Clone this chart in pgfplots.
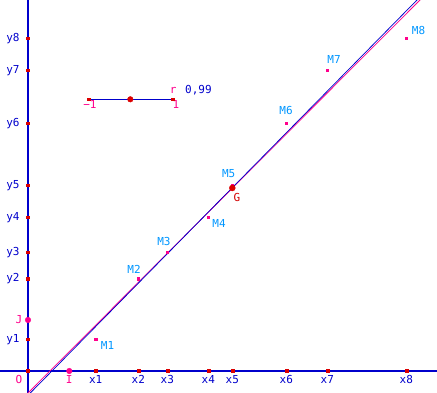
\documentclass[border=0pt]{standalone}
\usepackage{pgfplots}
\pgfplotsset{compat=1.18}
\usepackage{fontspec}
\setmainfont{DejaVu Sans Mono}
\definecolor{axblue}{RGB}{0,0,204}
\definecolor{tickred}{RGB}{220,0,0}
\definecolor{mag}{RGB}{255,0,140}
\definecolor{lblue}{RGB}{0,150,255}
\definecolor{gred}{RGB}{210,0,0}
\begin{document}
\begin{tikzpicture}[font=\fontsize{11}{13}\selectfont]
\begin{axis}[width=437pt,height=393pt,scale only axis,
  xmin=-28,xmax=409,ymin=-22,ymax=371,hide axis,clip=true,
  every node/.append style={inner sep=0pt}]
% axes
\addplot[axblue,line width=1.6pt] coordinates {(-28,0) (409,0)};
\addplot[axblue,line width=1.6pt] coordinates {(0,-22) (0,371)};
% regression lines
\addplot[mag,line width=0.75pt] coordinates {(-1,-23) (393,372)};
\addplot[axblue,line width=0.75pt] coordinates {(1.3,-23) (390,372)};
% slider
\addplot[axblue,line width=1pt] coordinates {(60.3,271.7) (144.3,271.7)};
\addplot[only marks,mark=square*,mark size=1.4pt,tickred] coordinates {(60.3,271.7) (144.3,271.7)};
\addplot[only marks,mark=*,mark size=2.8pt,tickred] coordinates {(102.3,271.7)};
% ticks on axes
\addplot[only marks,mark=square*,mark size=1.4pt,tickred] coordinates {
 (0,0) (67.7,0) (110.3,0) (139.3,0) (180.3,0) (204.3,0) (258.3,0) (299.3,0) (378.3,0)};
\addplot[only marks,mark=square*,mark size=1.4pt,tickred] coordinates {
 (0,31.7) (0,92) (0,118.7) (0,153.7) (0,185.7) (0,247.7) (0,300.7) (0,332.7)};
% I and J
\addplot[only marks,mark=*,mark size=2.8pt,mag] coordinates {(41.3,0) (0,51)};
% M points
\addplot[only marks,mark=square*,mark size=1.3pt,mag] coordinates {
 (67.7,31.7) (110.3,92) (139.3,118.7) (180.3,153.7) (204.3,185.7) (258.3,247.7) (299.3,300.7) (378.3,332.7)};
% G
\addplot[only marks,mark=*,mark size=3pt,tickred] coordinates {(204.3,183)};
% x labels
\node[anchor=base,text=axblue] at (67.7,-12.5) {x1};
\node[anchor=base,text=axblue] at (110.3,-12.5) {x2};
\node[anchor=base,text=axblue] at (139.3,-12.5) {x3};
\node[anchor=base,text=axblue] at (180.3,-12.5) {x4};
\node[anchor=base,text=axblue] at (204.3,-12.5) {x5};
\node[anchor=base,text=axblue] at (258.3,-12.5) {x6};
\node[anchor=base,text=axblue] at (299.3,-12.5) {x7};
\node[anchor=base,text=axblue] at (378.3,-12.5) {x8};
% y labels
\node[anchor=mid,text=axblue] at (-15,31.7) {y1};
\node[anchor=mid,text=axblue] at (-15,92) {y2};
\node[anchor=mid,text=axblue] at (-15,118.7) {y3};
\node[anchor=mid,text=axblue] at (-15,153.7) {y4};
\node[anchor=mid,text=axblue] at (-15,185.7) {y5};
\node[anchor=mid,text=axblue] at (-15,247.7) {y6};
\node[anchor=mid,text=axblue] at (-15,300.7) {y7};
\node[anchor=mid,text=axblue] at (-15,332.7) {y8};
% O I J
\node[anchor=base,text=mag] at (-9,-12.5) {O};
\node[anchor=base,text=mag] at (41.3,-12.5) {I};
\node[anchor=base,text=mag] at (-9,47) {J};
% M labels
\node[anchor=base,text=lblue] at (79.5,21) {M1};
\node[anchor=base,text=lblue] at (106,97.5) {M2};
\node[anchor=base,text=lblue] at (136,125) {M3};
\node[anchor=base,text=lblue] at (191,143.5) {M4};
\node[anchor=base,text=lblue] at (200.7,193) {M5};
\node[anchor=base,text=lblue] at (258,256) {M6};
\node[anchor=base,text=lblue] at (306,307) {M7};
\node[anchor=base,text=lblue] at (390.5,336) {M8};
\node[anchor=base,text=gred] at (209,169) {G};
% slider labels
\node[anchor=base,text=mag] at (62,262.5) {\char"2212 1};
\node[anchor=base,text=mag] at (148,262.5) {1};
\node[anchor=base,text=mag] at (145.3,277.5) {r};
\node[anchor=base west,text=axblue] at (153.7,277.5) {0,99};
\end{axis}
\pgfresetboundingbox
\path[use as bounding box] (current axis.south west) rectangle (current axis.north east);
\end{tikzpicture}
\end{document}
